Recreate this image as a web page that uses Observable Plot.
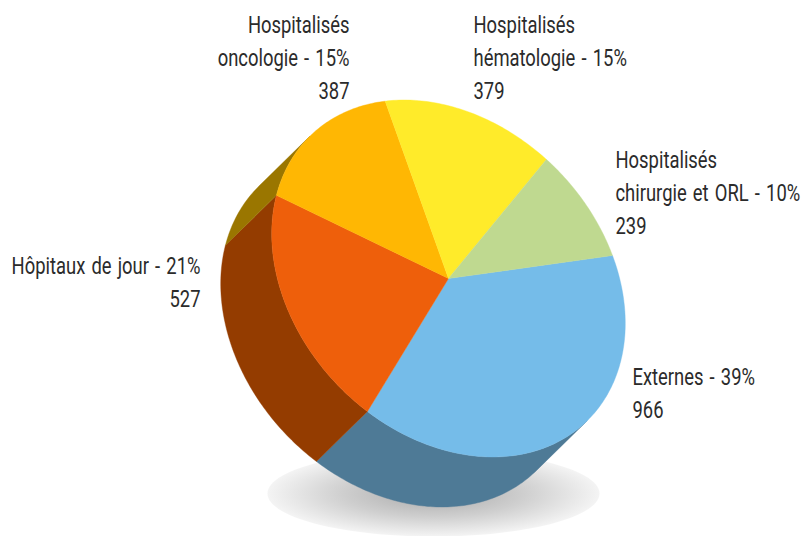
<!DOCTYPE html>
<html lang="fr">
<head>
<meta charset="utf-8">
<style>html,body{margin:0;padding:0;background:#fff}svg{display:block}</style>
<script src="https://cdn.jsdelivr.net/npm/d3@7"></script>
<script src="https://cdn.jsdelivr.net/npm/@observablehq/plot@0.6"></script>
</head>
<body>
<div id="chart"></div>
<script>
// Data
const categories = ["Externes", "Hôpitaux de jour", "Hospitalisés\noncologie", "Hospitalisés\nhématologie", "Hospitalisés\nchirurgie et ORL"];
const counts = [966, 527, 387, 379, 239];
const percents = [39, 21, 15, 15, 10];

// Styles
const topColors = ["#75bce9", "#ee5f0b", "#ffb703", "#ffeb2a", "#bfd990"];
const wallColors = ["#4e7a96", "#943c00", "#9a7600", "#a89a1c", "#7e8f5f"];

// Projection of the tilted disc (screen space)
const center = [448, 278];
const axisA = [164, -23];
const axisB = [66, 177];
const depth = [-51, 50];
const project = (t, s = 0) => [
  center[0] + axisA[0] * Math.cos(t) + axisB[0] * Math.sin(t) + s * depth[0],
  center[1] + axisA[1] * Math.cos(t) + axisB[1] * Math.sin(t) + s * depth[1]
];
const cross = (u, v) => u[0] * v[1] - u[1] * v[0];
// Only the half of the rim facing the viewer shows a wall
const frontStart = Math.atan2(cross(axisB, depth), cross(axisA, depth));
const frontEnd = frontStart + Math.PI;

const arcs = d3.pie().sort(null)(counts);
const angleSteps = (t0, t1) => {
  const n = Math.max(1, Math.ceil((t1 - t0) * 60));
  return d3.range(n + 1).map((i) => t0 + (t1 - t0) * i / n);
};
const topPoints = arcs.flatMap((a, i) =>
  [center, ...angleSteps(a.startAngle, a.endAngle).map((t) => project(t))].map(([x, y]) => ({x, y, i})));
const wallPoints = arcs.flatMap((a, i) => {
  const t0 = Math.max(a.startAngle, frontStart), t1 = Math.min(a.endAngle, frontEnd);
  if (t1 <= t0) return [];
  const ts = angleSteps(t0, t1);
  return [...ts.map((t) => project(t)), ...ts.slice().reverse().map((t) => project(t, 1))]
    .map(([x, y]) => ({x, y, i}));
});
const closeSlice = (pts) => d3.groups(pts, (d) => d.i).flatMap(([, g]) => [...g, g[0]]);

// Shadow under the pie
const shadowCenter = [433, 493], shadowR = [166, 43];
const shadowPoints = d3.range(0, 361, 3).map((deg) => ({
  x: shadowCenter[0] + shadowR[0] * Math.cos(deg * Math.PI / 180),
  y: shadowCenter[1] + shadowR[1] * Math.sin(deg * Math.PI / 180)
}));

// Labels
const labelTexts = categories.map((c, i) => `${c} - ${percents[i]}%\n${counts[i]}`);
const labelX = [632, 200, 349, 473, 615];
const labelY = [372.5, 261.5, 20.5, 20.5, 155.5];
const labelAnchor = ["start", "end", "end", "start", "start"];
const labels = labelTexts.map((text, i) => ({text, x: labelX[i], y: labelY[i], anchor: labelAnchor[i]}));
const condense = (index, scales, values, dims, ctx, next) => {
  const g = next(index, scales, values, dims, ctx);
  g.style.wordSpacing = "2px";
  g.querySelectorAll("text").forEach((t) => t.setAttribute("transform", `${t.getAttribute("transform") || ""} scale(0.8,1)`));
  return g;
};
const labelMark = (anchor) => Plot.text(labels.filter((d) => d.anchor === anchor), {
  x: "x", y: "y", text: "text", textAnchor: anchor, lineAnchor: "top", dy: -11,
  fontFamily: "Roboto, sans-serif", fontSize: 23, fill: "#2b2b2b", lineHeight: 1.42, render: condense
});

const gradient = () => {
  const ns = "http://www.w3.org/2000/svg";
  const defs = document.createElementNS(ns, "defs");
  defs.innerHTML = `<radialGradient id="shadow" cx="0.5" cy="0.5" r="0.5">
    <stop offset="0" stop-color="#a8a8a8"/><stop offset="0.55" stop-color="#cfcfcf"/><stop offset="1" stop-color="#f4f4f4"/>
  </radialGradient>`;
  return defs;
};

const chart = Plot.plot({
  width: 803, height: 536,
  margin: 0,
  x: {domain: [0, 803], range: [0, 803], axis: null},
  y: {domain: [0, 536], range: [0, 536], axis: null},
  marks: [
    gradient,
    Plot.line(shadowPoints, {x: "x", y: "y", fill: "url(#shadow)", stroke: "none"}),
    Plot.line(closeSlice(wallPoints), {x: "x", y: "y", z: "i", fill: (d) => wallColors[d.i], stroke: (d) => wallColors[d.i], strokeWidth: 0.4, curve: "linear"}),
    Plot.line(closeSlice(topPoints), {x: "x", y: "y", z: "i", fill: (d) => topColors[d.i], stroke: (d) => topColors[d.i], strokeWidth: 0.4, curve: "linear"}),
    labelMark("start"),
    labelMark("end")
  ]
});
document.getElementById("chart").append(chart);
</script>
</body>
</html>
